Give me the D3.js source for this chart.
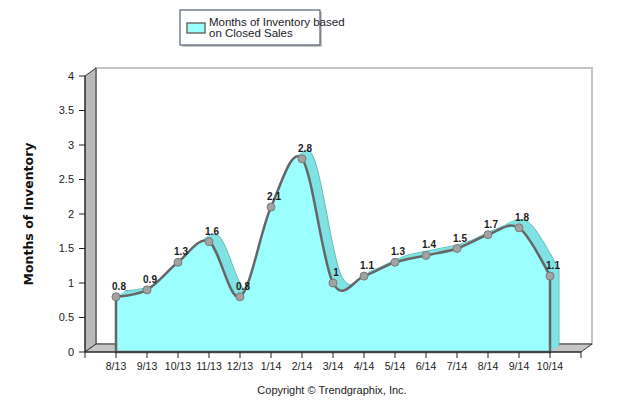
<!DOCTYPE html>
<html lang="en">
<head>
  <meta charset="UTF-8">
  <title>Months of Inventory</title>
  <style>
    body { margin: 0; background: #fff; font-family: "Liberation Sans", Arial, sans-serif; }
    svg { display: block; }
  </style>
  <script src="https://d3js.org/d3.v7.min.js"></script>
</head>
<body>
  <div id="chart"></div>

  <script>
    const months = ["8/13", "9/13", "10/13", "11/13", "12/13", "1/14", "2/14", "3/14",
                    "4/14", "5/14", "6/14", "7/14", "8/14", "9/14", "10/14"];
    const inventory = [0.8, 0.9, 1.3, 1.6, 0.8, 2.1, 2.8, 1, 1.1, 1.3, 1.4, 1.5, 1.7, 1.8, 1.1];
    const yTicks = [0, 0.5, 1, 1.5, 2, 2.5, 3, 3.5, 4];
    const seriesName = ["Months of Inventory based", "on Closed Sales"];

    const width = 640, height = 410;
    const plotLeft = 85, plotRight = 581, plotBottom = 352, plotTop = 76;
    const wallDx = 11, wallDy = -8;   // depth of the 3d box
    const areaDx = 9, areaDy = -6;    // depth of the series

    const x = d3.scaleLinear().domain([-1, months.length]).range([plotLeft, plotRight]);
    const y = d3.scaleLinear().domain([0, 4]).range([plotBottom, plotTop]);

    const svg = d3.create("svg")
        .attr("width", width)
        .attr("height", height);

    // back wall
    svg.append("rect")
        .attr("x", plotLeft + wallDx).attr("y", plotTop + wallDy)
        .attr("width", plotRight - plotLeft).attr("height", plotBottom - plotTop)
        .attr("fill", "#fff")
        .attr("stroke", "#c4c4c4")
        .attr("stroke-width", 2);

    // left wall
    svg.append("polygon")
        .attr("points", [[plotLeft, plotTop], [plotLeft + wallDx, plotTop + wallDy],
                         [plotLeft + wallDx, plotBottom + wallDy], [plotLeft, plotBottom]].join(" "))
        .attr("fill", "#bababa")
        .attr("stroke", "#333")
        .attr("stroke-width", 1);

    // floor
    svg.append("polygon")
        .attr("points", [[plotLeft, plotBottom], [plotLeft + wallDx, plotBottom + wallDy],
                         [plotRight + wallDx, plotBottom + wallDy], [plotRight, plotBottom]].join(" "))
        .attr("fill", "#c6c6c6")
        .attr("stroke", "#333")
        .attr("stroke-width", 1);

    const area = d3.area()
        .x((d, i) => x(i))
        .y0(y(0))
        .y1(d => y(d))
        .curve(d3.curveCardinal.tension(0));

    // extruded part of the series: sweep the area backwards
    const steps = 12;
    const sweep = svg.append("g");
    for (let k = steps; k >= 1; k--) {
      sweep.append("path")
          .attr("transform", `translate(${areaDx * k / steps},${areaDy * k / steps})`)
          .attr("d", area(inventory))
          .attr("fill", "#80e2e2")
          .attr("stroke", k === steps ? "#5cbcbc" : "none")
          .attr("stroke-width", 1);
    }

    // front face
    svg.append("path")
        .attr("d", area(inventory))
        .attr("fill", "#9bffff")
        .attr("stroke", "#666")
        .attr("stroke-width", 2.5)
        .attr("stroke-linejoin", "round");

    // markers
    svg.append("g")
      .selectAll("circle")
      .data(inventory)
      .join("circle")
        .attr("cx", (d, i) => x(i))
        .attr("cy", d => y(d))
        .attr("r", 4)
        .attr("fill", "#a2a2a2")
        .attr("stroke", "#7a7a7a")
        .attr("stroke-width", 1);

    // value labels
    svg.append("g")
        .attr("font-size", 10)
        .attr("font-weight", "bold")
        .attr("fill", "#1a1a1a")
        .attr("text-anchor", "middle")
      .selectAll("text")
      .data(inventory)
      .join("text")
        .attr("x", (d, i) => x(i) + 3)
        .attr("y", d => y(d) - 7)
        .text(d => d);

    // y axis
    const yAxis = svg.append("g").attr("fill", "#222").attr("font-size", 11);
    yAxis.append("line")
        .attr("x1", plotLeft).attr("x2", plotLeft).attr("y1", plotTop).attr("y2", plotBottom)
        .attr("stroke", "#222");
    yAxis.selectAll("line.tick")
      .data(yTicks)
      .join("line")
        .attr("class", "tick")
        .attr("x1", plotLeft - 6).attr("x2", plotLeft)
        .attr("y1", d => y(d)).attr("y2", d => y(d))
        .attr("stroke", "#222");
    yAxis.selectAll("text")
      .data(yTicks)
      .join("text")
        .attr("x", plotLeft - 11)
        .attr("y", d => y(d))
        .attr("dy", "0.35em")
        .attr("text-anchor", "end")
        .text(d => d);

    // x axis
    const xAxis = svg.append("g").attr("fill", "#222").attr("font-size", 10.5);
    xAxis.append("line")
        .attr("x1", plotLeft).attr("x2", plotRight).attr("y1", plotBottom).attr("y2", plotBottom)
        .attr("stroke", "#222");
    xAxis.selectAll("line.tick")
      .data(d3.range(-1, months.length + 1))
      .join("line")
        .attr("class", "tick")
        .attr("x1", d => x(d)).attr("x2", d => x(d))
        .attr("y1", plotBottom).attr("y2", plotBottom + 6)
        .attr("stroke", "#222");
    xAxis.selectAll("text")
      .data(months)
      .join("text")
        .attr("x", (d, i) => x(i))
        .attr("y", plotBottom + 18)
        .attr("text-anchor", "middle")
        .text(d => d);

    // axis title
    svg.append("text")
        .attr("transform", `translate(33,${(plotTop + plotBottom) / 2}) rotate(-90)`)
        .attr("text-anchor", "middle")
        .attr("font-family", "DejaVu Sans, sans-serif")
        .attr("font-weight", "bold")
        .attr("font-size", 12.5)
        .attr("fill", "#111")
        .text("Months of Inventory");

    // legend
    const legend = svg.append("g");
    legend.append("rect")
        .attr("x", 182).attr("y", 12).attr("width", 140).attr("height", 35)
        .attr("fill", "#c8c8c8");
    legend.append("rect")
        .attr("x", 180).attr("y", 10).attr("width", 140).attr("height", 35)
        .attr("fill", "#fff")
        .attr("stroke", "#34405c")
        .attr("stroke-width", 1);
    legend.append("rect")
        .attr("x", 187).attr("y", 23).attr("width", 18).attr("height", 10)
        .attr("fill", "#9bffff")
        .attr("stroke", "#6c6c6c")
        .attr("stroke-width", 1.5);
    legend.selectAll("text")
      .data(seriesName)
      .join("text")
        .attr("x", 209)
        .attr("y", (d, i) => 26 + i * 11)
        .attr("font-family", "Liberation Sans Narrow, Arial Narrow, sans-serif")
        .attr("font-size", 11.5)
        .attr("fill", "#1a1a2a")
        .text(d => d);

    // copyright
    svg.append("text")
        .attr("x", 332)
        .attr("y", 394)
        .attr("text-anchor", "middle")
        .attr("font-size", 11)
        .attr("fill", "#222")
        .text("Copyright \u00a9 Trendgraphix, Inc.");

    document.getElementById("chart").appendChild(svg.node());
  </script>
</body>
</html>
